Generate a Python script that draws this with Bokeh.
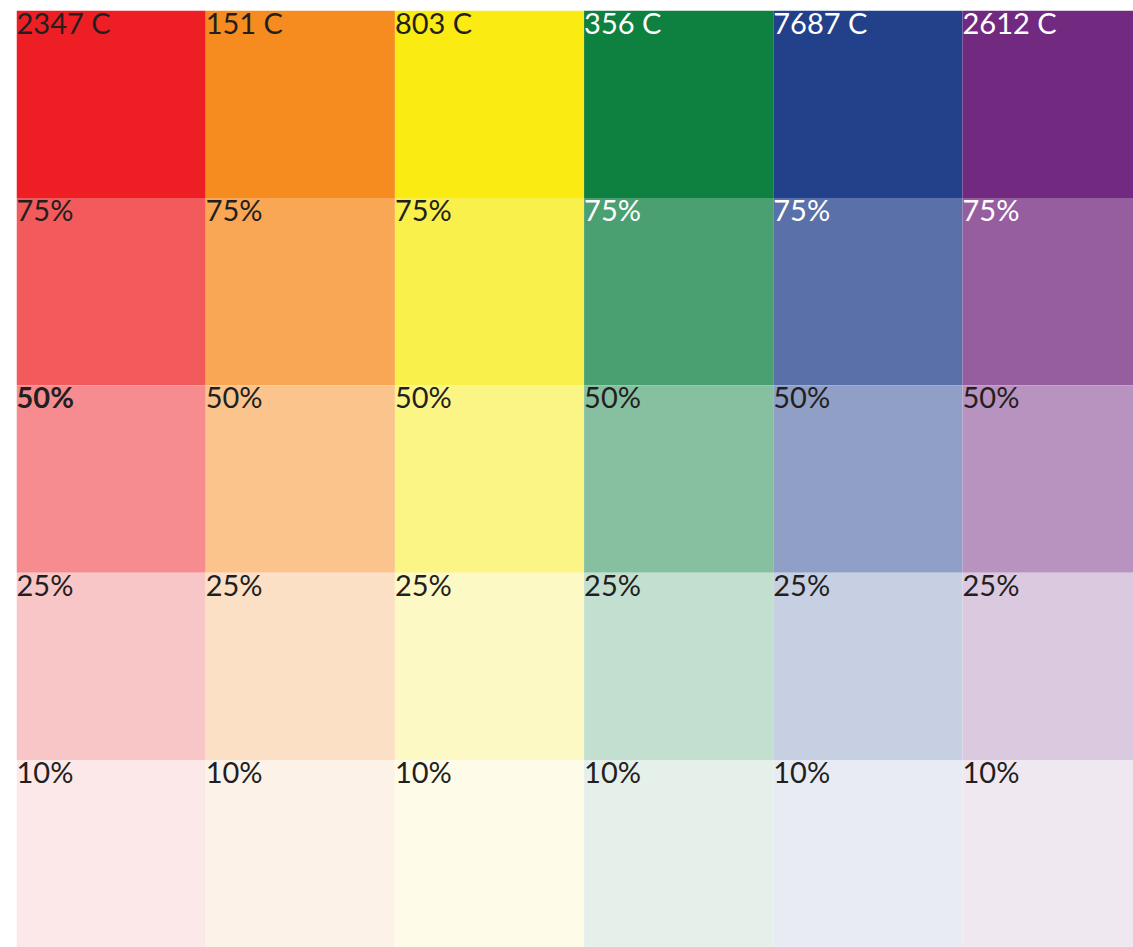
from bokeh.plotting import figure
from bokeh.models import ColumnDataSource, Range1d
from bokeh.core.properties import value
from bokeh.embed import file_html
from bokeh.resources import INLINE

# Data
swatches = ["2347 C", "151 C", "803 C", "356 C", "7687 C", "2612 C"]
tint_labels = ["", "75%", "50%", "25%", "10%"]
col_100 = ["#EE1F24", "#F68B1F", "#FAEC13", "#0E8040", "#22418A", "#722A80"]
col_75 = ["#F25A5C", "#F9A655", "#FAF04B", "#4AA071", "#5970A8", "#965E9F"]
col_50 = ["#F68C8F", "#FBC48D", "#FBF585", "#86C0A0", "#8F9FC6", "#B893BF"]
col_25 = ["#F9C6C7", "#FCE0C5", "#FCF9C4", "#C2DFD0", "#C7CFE3", "#DBC9E0"]
col_10 = ["#FCE8E9", "#FDF2E8", "#FEFCE8", "#E6F0EB", "#E8EBF4", "#F0E8F1"]
dark_text = ["#231F20", "#231F20", "#231F20", "#FFFFFF", "#FFFFFF", "#FFFFFF"]

rows = [col_100, col_75, col_50, col_25, col_10]

xs, ys, fills, lx, ly, labels, lcolors, lstyles = [], [], [], [], [], [], [], []
for r, row in enumerate(rows):
    for c, color in enumerate(row):
        xs.append(c + 0.5)
        ys.append(5 - r - 0.5)
        fills.append(color)
        lx.append(c)
        ly.append(5 - r)
        labels.append(swatches[c] if r == 0 else tint_labels[r])
        if r <= 1:
            lcolors.append(dark_text[c])
        else:
            lcolors.append("#231F20")
        lstyles.append("bold" if (r == 2 and c == 0) else "normal")

cells = ColumnDataSource(dict(x=xs, y=ys, fill=fills))
texts = ColumnDataSource(dict(x=lx, y=ly, text=labels, color=lcolors, style=lstyles))

frame_w = 1117
frame_h = 937
col_px = 189.2
row_px = 187.4

p = figure(width=1133, height=947, output_backend="svg", toolbar_location=None,
           x_range=Range1d(0, frame_w / col_px), y_range=Range1d(5 - frame_h / row_px, 5),
           min_border_left=16, min_border_right=0, min_border_top=10, min_border_bottom=0)
p.axis.visible = False
p.grid.visible = False
p.outline_line_color = None
p.background_fill_color = "white"

p.rect(x="x", y="y", width=1, height=1, fill_color="fill", line_color=None, source=cells)
p.text(x="x", y="y", text="text", text_color="color", text_font=value("Lato"),
       text_font_size="29px", text_font_style="style", text_align="left",
       text_baseline="top", y_offset=-6, source=texts)

open("out.html", "w").write(file_html(p, INLINE))
